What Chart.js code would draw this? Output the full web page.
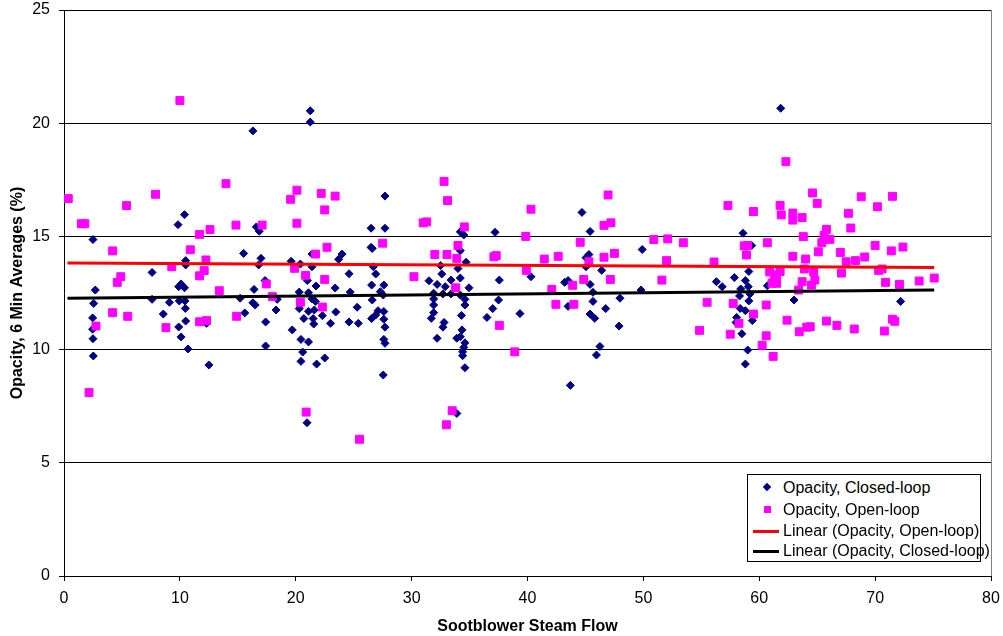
<!DOCTYPE html>
<html>
<head>
<meta charset="utf-8">
<script src="https://cdn.jsdelivr.net/npm/chart.js@4.4.1/dist/chart.umd.min.js"></script>
<style>
    body { margin: 0; background: #fff; }
    #wrap { position: relative; width: 1003px; height: 636px; }
    #legend {
        position: absolute; left: 747px; top: 474px; width: 232px; height: 86px;
        border: 1px solid #000; background: #fff;
        font: 16px "Liberation Sans", Arial, sans-serif; color: #000;
    }
    .item { position: absolute; left: 35px; white-space: nowrap; line-height: 20px; height: 20px; }
    .mk { position: absolute; }
</style>
</head>
<body>
<div id="wrap">
    <canvas id="scatterChart" width="1003" height="636"></canvas>
    <div id="legend">
        <span class="mk" style="left:16px;top:9px;width:6px;height:6px;background:#000080;transform:rotate(45deg);"></span>
        <div class="item" style="top:3px;">Opacity, Closed-loop</div>
        <span class="mk" style="left:16px;top:31px;width:7px;height:7px;background:#ff00ff;"></span>
        <div class="item" style="top:25px;">Opacity, Open-loop</div>
        <span class="mk" style="left:5px;top:55px;width:26px;height:3px;background:#ff0000;"></span>
        <div class="item" style="top:46px;">Linear (Opacity, Open-loop)</div>
        <span class="mk" style="left:5px;top:75px;width:26px;height:3px;background:#000;"></span>
        <div class="item" style="top:66px;">Linear (Opacity, Closed-loop)</div>
    </div>
</div>
<script>
// [steam flow, opacity]
const closedLoop = [
    [10.4,15.96],[9.84,15.52],[2.5,14.86],[10.5,13.93],[10.5,13.74],[7.6,13.41],[2.7,12.63],[9.9,12.78],
    [10.4,12.73],[10.1,12.9],[2.56,12.04],[7.6,12.22],[9.1,12.09],[9.95,12.15],[10.44,12.15],[10.47,11.82],
    [8.57,11.57],[2.47,11.4],[10.5,11.26],[2.47,10.9],[9.9,11.0],[2.5,10.48],[10.1,10.56],[10.7,10.03],
    [2.53,9.72],[12.3,11.16],[12.5,9.32],
    [21.25,20.55],[21.25,20.05],[16.3,19.66],[16.6,15.42],[16.85,15.23],[15.5,14.25],[21.4,14.22],[17.0,14.03],
    [16.8,13.74],[24.0,14.22],[23.7,13.99],[19.6,13.9],[20.4,13.78],[21.4,13.66],[24.6,13.35],[17.35,13.05],
    [21.0,13.05],[21.75,12.81],[23.4,12.72],[16.4,12.66],[20.3,12.54],[21.1,12.51],[24.7,12.54],[15.2,12.27],
    [18.4,12.22],[21.4,12.24],[21.7,12.13],[16.3,12.07],[16.5,11.97],[20.3,11.81],[25.3,11.87],[18.3,11.75],
    [21.1,11.69],[21.6,11.75],[23.45,11.66],[15.6,11.62],[22.3,11.5],[20.7,11.37],[21.5,11.37],[17.4,11.22],
    [21.55,11.13],[23.0,11.16],[24.6,11.22],[25.4,11.16],[19.7,10.87],[20.45,10.45],[21.1,10.34],[20.6,9.89],
    [17.4,10.16],[20.45,9.48],[21.8,9.36],[22.5,9.63],[20.97,6.77],
    [26.5,15.36],[26.5,14.52],[26.6,14.47],[26.6,12.19],[26.55,11.37],[26.55,12.85],[27.7,16.78],[27.7,15.36],
    [37.2,15.18],[34.2,15.2],[34.5,15.06],[26.7,13.66],[26.9,13.34],[32.5,13.71],[34.2,14.37],[34.7,13.86],
    [34.0,13.58],[27.6,12.85],[31.5,13.04],[32.6,13.34],[33.4,13.07],[34.2,13.16],[32.2,12.88],[32.9,12.78],
    [34.95,12.73],[37.57,13.07],[27.3,12.56],[27.55,12.41],[31.9,12.49],[32.7,12.46],[33.4,12.46],[34.2,12.41],
    [34.6,12.22],[31.9,12.24],[34.6,11.97],[37.5,12.19],[31.9,11.97],[27.1,11.72],[27.6,11.68],[26.9,11.53],
    [31.9,11.63],[31.7,11.38],[34.3,11.51],[37.0,11.81],[36.5,11.42],[39.35,11.59],[27.6,11.34],[27.7,10.99],
    [32.8,11.2],[32.7,10.99],[34.35,10.87],[34.2,10.57],[33.9,10.5],[32.2,10.5],[27.6,10.45],[27.7,10.28],
    [34.6,10.3],[34.5,10.1],[34.4,9.9],[34.4,9.73],[34.6,9.2],[27.55,8.88],[33.9,7.18],
    [44.7,16.06],[45.4,15.22],[40.3,13.22],[49.9,14.42],[45.3,14.2],[45.05,14.06],[45.05,13.66],[46.4,13.5],
    [43.2,12.97],[43.5,13.05],[45.4,12.88],[45.65,12.53],[47.98,12.27],[49.8,12.63],[45.65,12.13],[43.5,11.91],
    [46.75,11.81],[45.4,11.57],[45.8,11.38],[47.9,11.04],[46.25,10.14],[45.95,9.76],[43.7,8.42],
    [61.85,20.66],[58.6,15.14],[59.35,14.6],[59.1,13.45],[56.3,13.0],[56.8,12.78],[57.85,13.18],[58.8,13.05],
    [59.05,12.78],[58.4,12.68],[60.7,12.82],[58.3,12.37],[59.2,12.46],[59.1,12.15],[63.0,12.19],[58.35,11.82],
    [58.8,11.72],[58.05,11.42],[59.4,11.28],[58.0,11.2],[58.5,10.7],[59.0,9.98],[58.8,9.36],
    [72.2,12.13]
];

const openLoop = [
    [10.0,21.0],[0.37,16.67],[7.9,16.86],[5.4,16.36],[1.5,15.56],[1.8,15.56],[12.6,15.3],[11.7,15.09],
    [4.2,14.36],[10.9,14.41],[12.25,13.96],[9.3,13.66],[12.1,13.49],[11.7,13.26],[4.9,13.22],[4.6,12.97],
    [13.4,12.6],[4.2,11.63],[5.5,11.47],[2.76,11.04],[8.8,10.97],[11.7,11.23],[12.3,11.28],[2.16,8.1],
    [13.98,17.33],[20.1,17.04],[19.56,16.64],[22.2,16.9],[23.4,16.78],[22.5,16.17],[14.84,15.5],[17.1,15.5],
    [20.1,15.58],[22.7,14.52],[21.7,14.22],[19.9,13.59],[20.85,13.28],[22.5,13.1],[17.46,12.9],[17.98,12.34],
    [20.4,12.09],[22.3,11.88],[14.9,11.47],[20.9,7.24],[25.5,6.04],
    [32.8,17.43],[33.1,16.58],[31.0,15.6],[31.3,15.64],[34.55,15.42],[40.3,16.2],[39.85,15.0],[27.5,14.7],
    [34.0,14.6],[32.0,14.2],[33.05,14.2],[33.9,14.03],[37.1,14.1],[37.3,14.15],[39.9,13.5],[30.2,13.22],
    [33.8,12.73],[37.57,11.07],[38.9,9.9],[33.5,7.3],[33.0,6.68],
    [46.95,16.83],[47.2,15.6],[46.6,15.49],[44.55,14.74],[50.9,14.86],[52.1,14.89],[53.45,14.72],[41.45,14.0],
    [42.65,14.12],[46.6,14.08],[47.5,14.25],[45.3,13.88],[52.0,13.93],[44.85,13.1],[47.15,13.1],[51.6,13.07],
    [43.9,12.84],[42.1,12.66],[42.45,12.0],[44.0,12.0],
    [62.3,18.3],[64.6,16.92],[65.0,16.46],[57.3,16.37],[59.5,16.1],[61.8,16.37],[61.9,15.95],[62.9,16.03],
    [62.9,15.72],[63.7,15.83],[65.8,15.31],[65.6,15.05],[66.1,14.87],[65.4,14.72],[63.8,14.99],[58.7,14.58],
    [59.0,14.6],[58.9,14.18],[60.7,14.72],[62.9,14.12],[64.0,14.0],[65.1,14.32],[67.0,14.29],[56.1,13.87],
    [63.9,13.56],[60.9,13.43],[61.8,13.45],[61.5,13.3],[61.3,13.05],[61.5,12.93],[61.1,12.93],[64.7,13.43],
    [64.8,13.07],[64.5,12.85],[63.7,13.0],[63.4,12.63],[67.1,13.38],[55.5,12.09],[57.75,12.04],[60.6,11.97],
    [59.5,11.57],[58.25,11.16],[62.4,11.3],[63.45,10.79],[64.1,10.99],[64.4,11.01],[65.8,11.26],[66.7,11.07],
    [54.85,10.85],[57.5,10.68],[60.6,10.61],[60.25,10.19],[61.2,9.7],
    [68.8,16.75],[71.5,16.77],[70.2,16.31],[67.7,16.02],[67.9,15.37],[70.0,14.6],[71.4,14.36],[72.4,14.53],
    [69.1,14.09],[67.5,13.88],[68.3,13.93],[70.3,13.5],[70.6,13.56],[70.9,12.97],[72.1,12.88],[73.8,13.03],
    [75.1,13.16],[68.2,10.91],[71.5,11.34],[71.7,11.25],[70.8,10.82]
];

// trend line end points
const trendOpen = [[0.3,13.82],[75.1,13.63]];
const trendClosed = [[0.3,12.27],[75.1,12.63]];

const xTicks = [0, 10, 20, 30, 40, 50, 60, 70, 80];
const yTicks = [0, 5, 10, 15, 20, 25];

const toXY = arr => arr.map(p => ({ x: p[0], y: p[1] }));
const fontBase = { family: "'Liberation Sans', Arial, sans-serif", size: 16 };

// gray plot-area border on the right side
const plotBorder = {
    id: 'plotBorder',
    beforeDatasetsDraw(chart) {
        const { ctx, chartArea } = chart;
        ctx.save();
        ctx.strokeStyle = '#808080';
        ctx.lineWidth = 1;
        ctx.beginPath();
        ctx.moveTo(Math.round(chartArea.right) + 0.5, chartArea.top);
        ctx.lineTo(Math.round(chartArea.right) + 0.5, chartArea.bottom);
        ctx.stroke();
        ctx.restore();
    }
};

// labels may hang over the edges, like in the original
function noOverhang(s) {
    s.paddingTop = 0;
    s.paddingBottom = 0;
    s.paddingLeft = 0;
    s.paddingRight = 0;
}

new Chart(document.getElementById('scatterChart').getContext('2d'), {
    type: 'scatter',
    data: {
        datasets: [
            {
                label: 'Linear (Opacity, Open-loop)',
                data: toXY(trendOpen),
                showLine: true,
                borderColor: '#ff0000',
                borderWidth: 3,
                pointRadius: 0
            },
            {
                label: 'Linear (Opacity, Closed-loop)',
                data: toXY(trendClosed),
                showLine: true,
                borderColor: '#000000',
                borderWidth: 3,
                pointRadius: 0
            },
            {
                label: 'Opacity, Open-loop',
                data: toXY(openLoop),
                pointStyle: 'rect',
                pointRadius: 5.6,
                backgroundColor: '#ff00ff',
                borderColor: '#ff00ff',
                borderWidth: 1
            },
            {
                label: 'Opacity, Closed-loop',
                data: toXY(closedLoop),
                pointStyle: 'rectRot',
                pointRadius: 4,
                backgroundColor: '#000080',
                borderColor: '#000080',
                borderWidth: 1
            }
        ]
    },
    options: {
        responsive: false,
        animation: false,
        layout: { padding: { top: 10, right: 12, left: 0, bottom: 0 } },
        plugins: { legend: { display: false }, tooltip: { enabled: false } },
        scales: {
            x: {
                type: 'linear',
                min: 0, max: 80,
                afterBuildTicks: s => { s.ticks = xTicks.map(v => ({ value: v })); },
                afterFit: s => { s.height = 60; noOverhang(s); },
                grid: { drawOnChartArea: false, drawTicks: true, tickLength: 5, color: '#000' },
                border: { color: '#000', width: 1 },
                ticks: { color: '#000', font: fontBase, padding: 8, maxRotation: 0 },
                title: {
                    display: true, text: 'Sootblower Steam Flow', color: '#000',
                    font: { ...fontBase, weight: 'bold' }, padding: { top: 0, bottom: 0 }
                }
            },
            y: {
                type: 'linear',
                min: 0, max: 25,
                afterBuildTicks: s => { s.ticks = yTicks.map(v => ({ value: v })); },
                afterFit: s => { s.width = 64; noOverhang(s); },
                grid: { color: '#000', lineWidth: 1, drawTicks: true, tickLength: 5 },
                border: { color: '#000', width: 1 },
                ticks: { color: '#000', font: fontBase, padding: 9 },
                title: {
                    display: true, text: 'Opacity, 6 Min Averages (%)', color: '#000',
                    font: { ...fontBase, weight: 'bold' }, padding: { top: 8, bottom: 0 }
                }
            }
        }
    },
    plugins: [plotBorder]
});
</script>
</body>
</html>
